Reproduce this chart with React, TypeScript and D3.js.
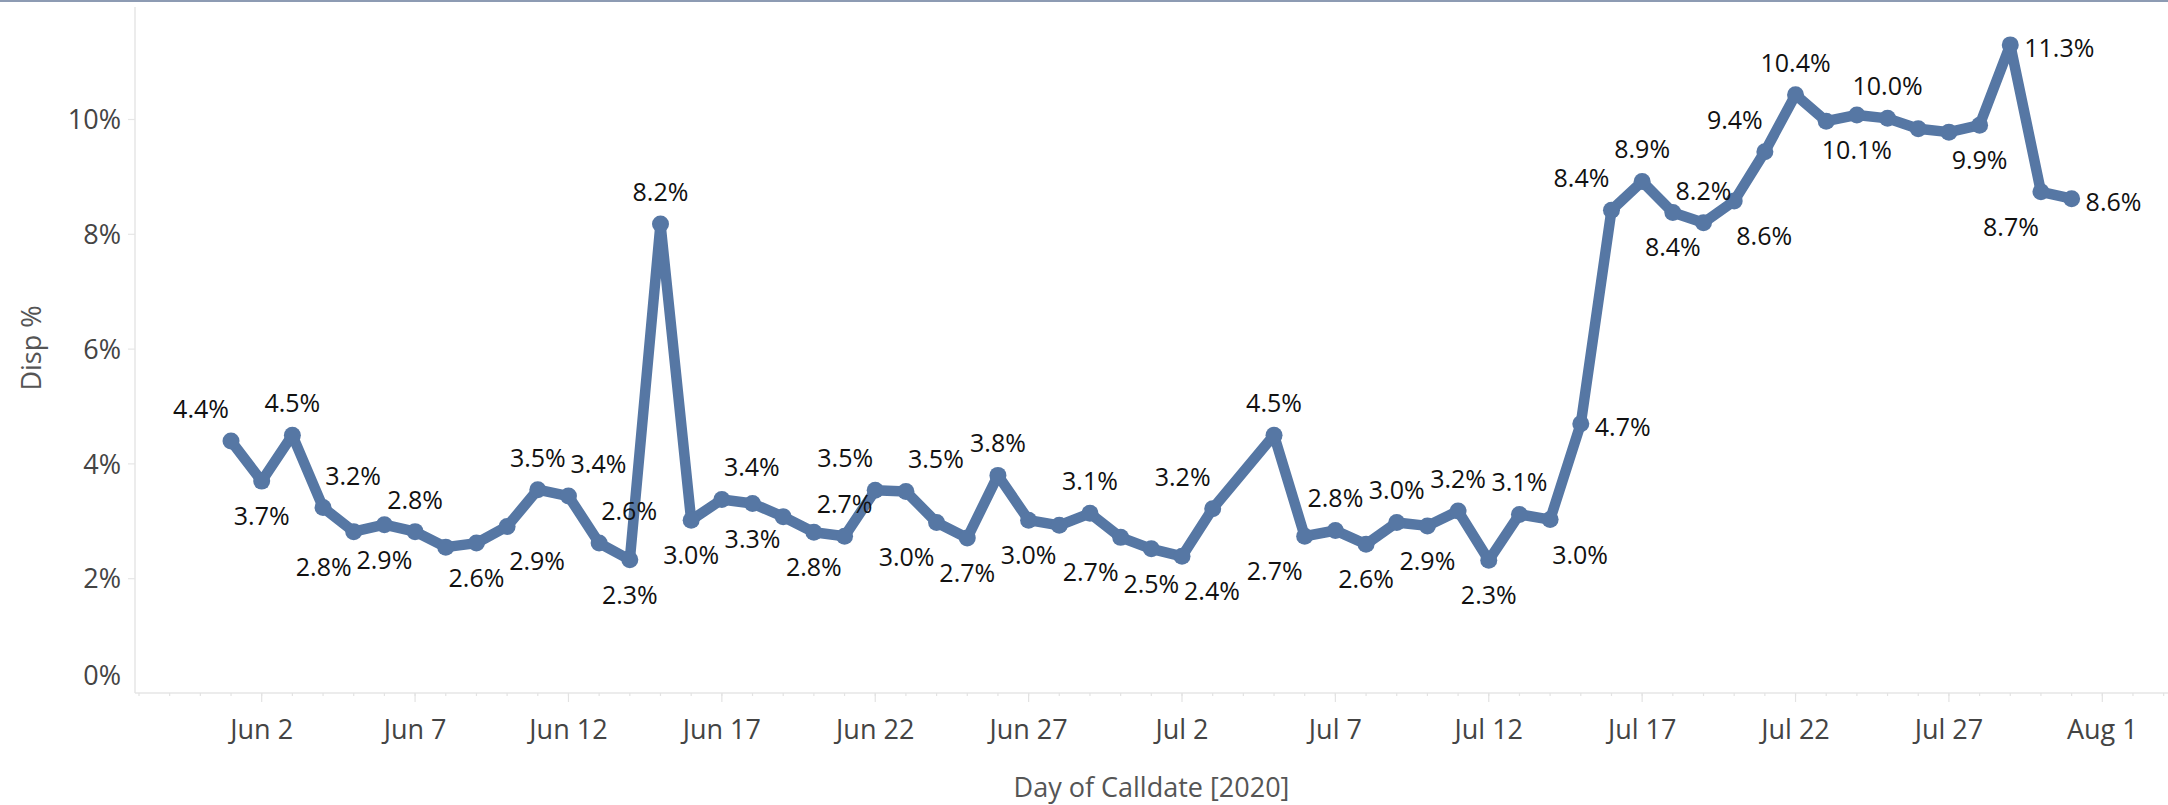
import React, { useEffect } from "react";
import * as d3 from "d3";

// ---- data ----
const dates = [
  "2020-06-01", "2020-06-02", "2020-06-03", "2020-06-04", "2020-06-05", "2020-06-06", "2020-06-07",
  "2020-06-08", "2020-06-09", "2020-06-10", "2020-06-11", "2020-06-12", "2020-06-13", "2020-06-14",
  "2020-06-15", "2020-06-16", "2020-06-17", "2020-06-18", "2020-06-19", "2020-06-20", "2020-06-21",
  "2020-06-22", "2020-06-23", "2020-06-24", "2020-06-25", "2020-06-26", "2020-06-27", "2020-06-28",
  "2020-06-29", "2020-06-30", "2020-07-01", "2020-07-02", "2020-07-03", "2020-07-05", "2020-07-06",
  "2020-07-07", "2020-07-08", "2020-07-09", "2020-07-10", "2020-07-11", "2020-07-12", "2020-07-13",
  "2020-07-14", "2020-07-15", "2020-07-16", "2020-07-17", "2020-07-18", "2020-07-19", "2020-07-20",
  "2020-07-21", "2020-07-22", "2020-07-23", "2020-07-24", "2020-07-25", "2020-07-26", "2020-07-27",
  "2020-07-28", "2020-07-29", "2020-07-30", "2020-07-31",
];

const dispPct = [
  4.4, 3.7, 4.5, 3.24, 2.82, 2.94, 2.82,
  2.55, 2.62, 2.91, 3.55, 3.44, 2.62, 2.33,
  8.18, 3.02, 3.38, 3.31, 3.08, 2.81, 2.74,
  3.54, 3.52, 2.98, 2.71, 3.8, 3.02, 2.93,
  3.14, 2.72, 2.52, 2.39, 3.22, 4.5, 2.74,
  2.84, 2.6, 2.98, 2.92, 3.18, 2.32, 3.12,
  3.03, 4.7, 8.42, 8.92, 8.38, 8.2, 8.58,
  9.44, 10.43, 9.97, 10.08, 10.02, 9.84, 9.78,
  9.9, 11.3, 8.74, 8.62,
];

// where each mark label sits relative to its point ("" = no label)
const labelPos = [
  "tl", "b", "t", "tr", "bl", "b", "t",
  "", "b", "br", "t", "tr", "tr", "b",
  "t", "b", "tr", "b", "", "b", "t",
  "tl", "tr", "bl", "b", "t", "b", "",
  "t", "bl", "b", "br", "tl", "t", "bl",
  "t", "b", "t", "b", "t", "b", "t",
  "br", "r", "tl", "t", "b", "t", "br",
  "tl", "t", "", "b", "t", "", "",
  "b", "r", "bl", "r",
];

const yTicks = [0, 2, 4, 6, 8, 10];
const xTickDates = [
  "2020-06-02", "2020-06-07", "2020-06-12", "2020-06-17", "2020-06-22", "2020-06-27", "2020-07-02",
  "2020-07-07", "2020-07-12", "2020-07-17", "2020-07-22", "2020-07-27", "2020-08-01",
];
const yTitle = "Disp %";
const xTitle = "Day of Calldate [2020]";

const FONT = "'Open Sans', 'Noto Sans', sans-serif";
const LINE_COLOR = "#5677a4";

const OFFSETS: Record<string, { dx: number; dy: number; anchor: string }> = {
  t: { dx: 0, dy: -32, anchor: "middle" },
  b: { dx: 0, dy: 35, anchor: "middle" },
  tl: { dx: -30, dy: -32, anchor: "middle" },
  tr: { dx: 30, dy: -32, anchor: "middle" },
  bl: { dx: -30, dy: 35, anchor: "middle" },
  br: { dx: 30, dy: 35, anchor: "middle" },
  r: { dx: 14, dy: 3, anchor: "start" },
  l: { dx: -14, dy: 3, anchor: "end" },
};

export default function App() {
  useEffect(() => {
    document.body.style.margin = "0";
    document.body.style.overflow = "hidden";
  }, []);

  const W = 2168;
  const H = 805;
  const plotLeft = 135;
  const plotRight = W;
  const plotTop = 7;
  const plotBottom = 693;

  const parse = d3.utcParse("%Y-%m-%d");
  const x = d3
    .scaleUtc()
    .domain([parse("2020-06-02") as Date, parse("2020-08-01") as Date])
    .range([261.7, 2102.3]);
  const y = d3.scaleLinear().domain([0, 10]).range([693.5, 119.5]);

  const pts = dates.map((d, i) => ({
    x: x(parse(d) as Date),
    y: y(dispPct[i]),
    v: dispPct[i],
    pos: labelPos[i],
  }));

  const line = d3
    .line<{ x: number; y: number }>()
    .x((d) => d.x)
    .y((d) => d.y);

  const minorDays = d3.utcDay.range(x.invert(plotLeft), x.invert(plotRight));
  const fmtTick = d3.utcFormat("%b %-d");
  const fmtVal = (v: number) => d3.format(".1f")(v) + "%";

  return (
    <svg
      width={W}
      height={H}
      style={{ display: "block", background: "#fff" }}
      fontFamily={FONT}
    >
      <rect x={0} y={0} width={W} height={2} fill="#8d9bb3" />

      {/* axes */}
      <line x1={plotLeft} x2={plotLeft} y1={plotTop} y2={plotBottom} stroke="#e6e6e6" strokeWidth={1.5} />
      <line x1={plotLeft} x2={plotRight} y1={plotBottom} y2={plotBottom} stroke="#e6e6e6" strokeWidth={1.5} />

      {/* y ticks */}
      {yTicks.map((t) => (
        <g key={"y" + t}>
          {t !== 0 && (
            <line x1={128} x2={plotLeft} y1={y(t)} y2={y(t)} stroke="#e6e6e6" strokeWidth={1.2} />
          )}
          <text
            x={121}
            y={t === 0 ? y(t) - 18 : y(t)}
            dy="0.36em"
            textAnchor="end"
            fontSize={27}
            fill="#444"
          >
            {t}%
          </text>
        </g>
      ))}

      {/* x ticks */}
      {minorDays.map((d, i) => (
        <line
          key={"m" + i}
          x1={x(d)}
          x2={x(d)}
          y1={plotBottom}
          y2={plotBottom + 3}
          stroke="#e3e3e3"
          strokeWidth={1.2}
        />
      ))}
      {xTickDates.map((s) => {
        const d = parse(s) as Date;
        return (
          <g key={s}>
            <line x1={x(d)} x2={x(d)} y1={plotBottom} y2={plotBottom + 9} stroke="#e3e3e3" strokeWidth={1.2} />
            <text x={x(d)} y={729} dy="0.36em" textAnchor="middle" fontSize={27} fill="#444">
              {fmtTick(d)}
            </text>
          </g>
        );
      })}

      {/* axis titles */}
      <text x={(plotLeft + plotRight) / 2} y={787} dy="0.36em" textAnchor="middle" fontSize={27} fill="#555">
        {xTitle}
      </text>
      <text
        transform={`translate(31,348) rotate(-90)`}
        dy="0.36em"
        textAnchor="middle"
        fontSize={27}
        fill="#555"
      >
        {yTitle}
      </text>

      {/* series */}
      <path d={line(pts) || ""} fill="none" stroke={LINE_COLOR} strokeWidth={10.5} strokeLinejoin="round" strokeLinecap="round" />
      {pts.map((p, i) => (
        <circle key={"c" + i} cx={p.x} cy={p.y} r={8.5} fill={LINE_COLOR} />
      ))}
      {pts.map((p, i) => {
        if (!p.pos) return null;
        const o = OFFSETS[p.pos];
        return (
          <text
            key={"l" + i}
            x={p.x + o.dx}
            y={p.y + o.dy}
            dy="0.36em"
            textAnchor={o.anchor}
            fontSize={25}
            fill="#111"
          >
            {fmtVal(p.v)}
          </text>
        );
      })}
    </svg>
  );
}
